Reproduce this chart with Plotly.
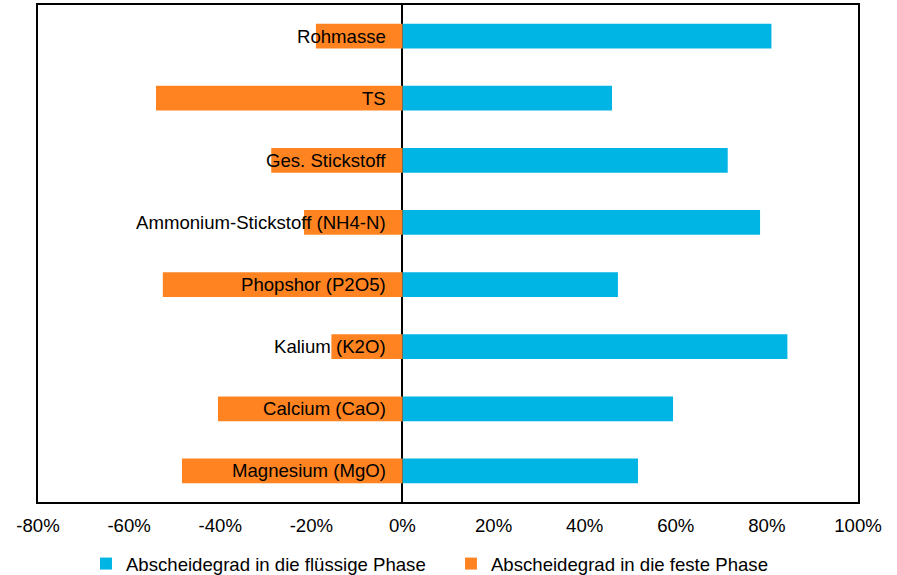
import plotly.graph_objects as go

# Separation efficiency of a manure separator per parameter
categories = [
    "Rohmasse",
    "TS",
    "Ges. Stickstoff",
    "Ammonium-Stickstoff (NH4-N)",
    "Phopshor (P2O5)",
    "Kalium (K2O)",
    "Calcium (CaO)",
    "Magnesium (MgO)",
]
liquid_phase = [0.810, 0.460, 0.714, 0.785, 0.473, 0.845, 0.594, 0.517]
solid_phase = [-0.190, -0.541, -0.288, -0.216, -0.526, -0.156, -0.405, -0.484]

series_names = ["Abscheidegrad in die flüssige Phase", "Abscheidegrad in die feste Phase"]
x_ticks = [-0.8, -0.6, -0.4, -0.2, 0.0, 0.2, 0.4, 0.6, 0.8, 1.0]
x_tick_text = ["-80%", "-60%", "-40%", "-20%", "0%", "20%", "40%", "60%", "80%", "100%"]

BLUE = "#00B4E4"
ORANGE = "#FF8421"
FONT = "Liberation Sans, Arial, sans-serif"
FS = 18.6

fig = go.Figure()
fig.add_trace(go.Bar(
    y=categories, x=liquid_phase, orientation="h", name=series_names[0],
    marker=dict(color=BLUE, line=dict(width=0)),
))
fig.add_trace(go.Bar(
    y=categories, x=solid_phase, orientation="h", name=series_names[1],
    marker=dict(color=ORANGE, line=dict(width=0)),
))

# category names sit just left of the zero line
for cat in categories:
    fig.add_annotation(
        x=0, y=cat, xref="x", yref="y", text=cat, showarrow=False,
        xanchor="right", yanchor="middle", xshift=-14,
        font=dict(family=FONT, size=FS, color="#000000"),
    )

fig.update_layout(
    width=897, height=575,
    margin=dict(l=38, r=39, t=5, b=73, autoexpand=False),
    paper_bgcolor="white", plot_bgcolor="white",
    barmode="relative", bargap=0.6,
    font=dict(family=FONT, size=FS, color="#000000"),
    showlegend=True,
    legend=dict(
        orientation="h", x=0.0585, xanchor="left", y=-0.1247, yanchor="middle",
        font=dict(family=FONT, size=FS, color="#000000"),
        traceorder="normal", itemwidth=30,
        entrywidth=320, entrywidthmode="pixels",
    ),
    xaxis=dict(
        range=[-0.8, 1.0], tickvals=x_ticks, ticktext=x_tick_text,
        showgrid=False, zeroline=True, zerolinecolor="#000000", zerolinewidth=2,
        showline=True, linecolor="#000000", linewidth=2, mirror=True,
        ticks="", ticklen=0, ticklabelstandoff=6,
        tickfont=dict(size=FS, family=FONT, color="#000000"),
    ),
    yaxis=dict(
        autorange="reversed", showticklabels=False, showgrid=False,
        showline=True, linecolor="#000000", linewidth=2, mirror=True,
        ticks="", zeroline=False,
    ),
)

fig.write_html("out.html")
